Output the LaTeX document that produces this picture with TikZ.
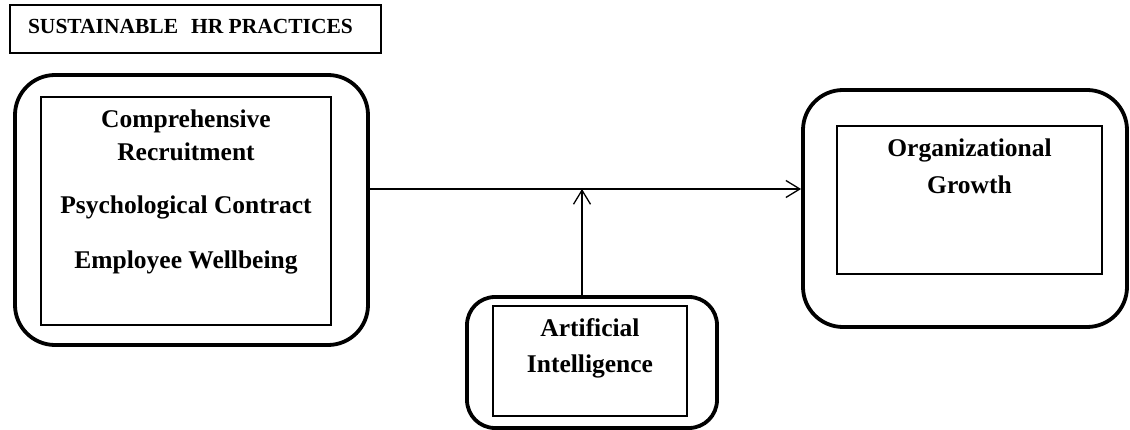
\documentclass[tikz,border=0pt]{standalone}
\usepackage{fontspec}
\setmainfont{Liberation Serif}
\usetikzlibrary{arrows.meta,calc}
\begin{document}
\begin{tikzpicture}[x=1pt,y=-1pt,
  outerbox/.style={draw=black,line width=3.8pt,rounded corners=40pt,inner sep=0pt},
  innerbox/.style={draw=black,line width=1.3pt,inner sep=0pt},
  titlebox/.style={draw=black,line width=1.3pt,inner sep=0pt},
  lbl/.style={font=\fontsize{25.5}{33}\selectfont\bfseries,align=center,inner sep=0pt},
  ttl/.style={font=\fontsize{21.5}{24}\selectfont\bfseries,inner sep=0pt},
  conn/.style={draw=black,line width=1.3pt,-{Straight Barb[length=14pt,width=17pt,line width=1.3pt]}}
]
\useasboundingbox (0,0) rectangle (1130,430);
% title
\node[titlebox,minimum width=371pt,minimum height=48pt] (T) at (195.5,29) {};
\node[ttl] (Tt) at (190.5,26) {SUSTAINABLE\hspace{0.35em} HR PRACTICES};
% left block
\node[outerbox,minimum width=353pt,minimum height=270pt] (L) at (191.5,210) {};
\node[innerbox,minimum width=290pt,minimum height=228pt] (Li) at (186,211) {};
\node[lbl] (L1) at (186,135.5) {Comprehensive\\Recruitment};
\node[lbl] (L2) at (186,207) {Psychological Contract};
\node[lbl] (L3) at (186,262) {Employee Wellbeing};
% organizational growth
\node[outerbox,minimum width=324pt,minimum height=237pt] (O) at (965,208.5) {};
\node[innerbox,minimum width=265pt,minimum height=148pt] (Oi) at (969.5,200) {};
\node[lbl,font=\fontsize{25.5}{37}\selectfont\bfseries] (O1) at (969.5,166.5) {Organizational\\Growth};
% AI
\node[outerbox,rounded corners=28pt,minimum width=250pt,minimum height=131pt] (A) at (592,362.5) {};
\node[innerbox,minimum width=194pt,minimum height=110pt] (Ai) at (590,361) {};
\node[lbl,font=\fontsize{25.5}{36}\selectfont\bfseries] (A1) at (590,348) {Artificial\\Intelligence};
% connectors
\coordinate (J) at (582,189);
\draw[conn] (L.east |- J) -- (O.west |- J);
\draw[conn] (A.north -| J) -- (J);
\end{tikzpicture}
\end{document}
